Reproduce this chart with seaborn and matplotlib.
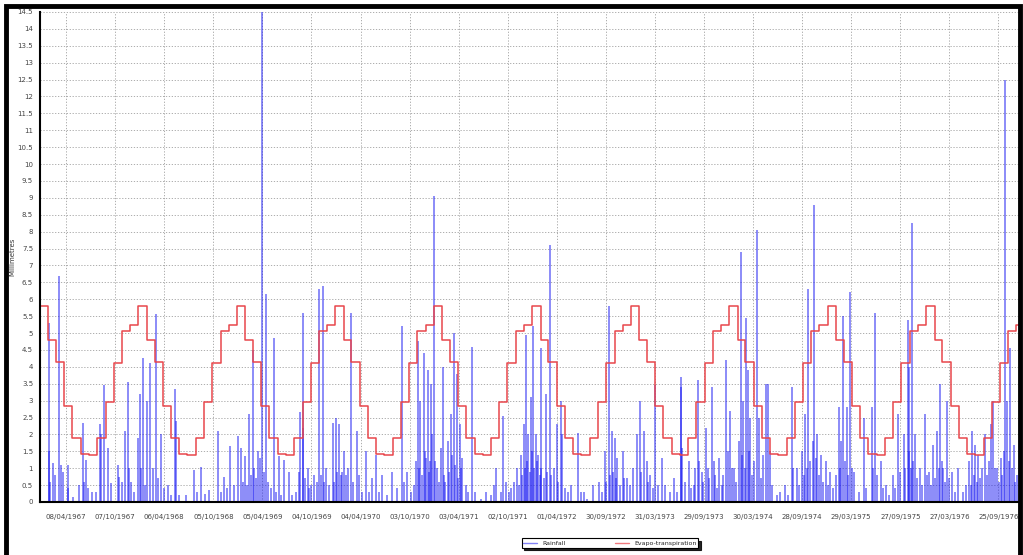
import numpy as np
import pandas as pd
import seaborn as sns
import matplotlib.pyplot as plt
from matplotlib.patches import Rectangle

# daily rainfall spikes: day offset from 1967-01-01 and mm
rain_day = [
    32, 33, 38, 49, 56, 70, 79, 86, 103, 104, 123, 145, 160, 164, 171, 179, 193, 208,
    223, 227, 238, 253, 264, 289, 293, 305, 316, 326, 330, 338, 349, 364, 371, 375,
    381, 390, 397, 408, 419, 430, 438, 449, 460, 474, 486, 501, 503, 516, 542, 570,
    582, 597, 612, 627, 660, 671, 681, 694, 705, 720, 734, 745, 753, 760, 768, 775,
    782, 790, 794, 801, 808, 816, 823, 831, 838, 845, 857, 868, 875, 886, 894, 905,
    923, 934, 949, 960, 964, 974, 977, 983, 993, 997, 1007, 1016, 1027, 1034, 1042,
    1048, 1053, 1060, 1072, 1085, 1090, 1097, 1103, 1109, 1116, 1122, 1127, 1134,
    1141, 1153, 1160, 1174, 1183, 1194, 1209, 1220, 1231, 1248, 1257, 1268, 1286,
    1307, 1326, 1342, 1349, 1363, 1375, 1386, 1394, 1401, 1405, 1409, 1416, 1423,
    1427, 1431, 1438, 1442, 1446, 1452, 1455, 1461, 1466, 1474, 1479, 1486, 1493,
    1497, 1501, 1512, 1518, 1524, 1529, 1535, 1540, 1545, 1549, 1557, 1561, 1567,
    1579, 1587, 1601, 1612, 1635, 1656, 1672, 1683, 1693, 1709, 1716, 1727, 1738,
    1746, 1757, 1771, 1775, 1783, 1788, 1795, 1799, 1804, 1807, 1811, 1816, 1820,
    1824, 1827, 1833, 1838, 1844, 1849, 1853, 1857, 1860, 1868, 1875, 1882, 1890,
    1897, 1905, 1916, 1923, 1931, 1937, 1946, 1957, 1968, 1997, 2005, 2016, 2030,
    2053, 2072, 2083, 2094, 2101, 2109, 2114, 2123, 2127, 2131, 2137, 2141, 2150,
    2161, 2168, 2179, 2190, 2200, 2215, 2224, 2229, 2239, 2250, 2257, 2264, 2272,
    2283, 2294, 2308, 2320, 2335, 2350, 2361, 2376, 2378, 2383, 2394, 2409, 2416,
    2424, 2431, 2441, 2446, 2456, 2461, 2471, 2476, 2483, 2494, 2500, 2505, 2512,
    2520, 2528, 2535, 2546, 2552, 2561, 2567, 2576, 2583, 2591, 2601, 2605, 2609,
    2615, 2620, 2626, 2631, 2635, 2642, 2650, 2661, 2668, 2676, 2683, 2694, 2702,
    2709, 2716, 2734, 2746, 2765, 2776, 2790, 2794, 2808, 2817, 2827, 2832, 2839,
    2844, 2850, 2857, 2867, 2872, 2878, 2882, 2889, 2897, 2905, 2917, 2924, 2931,
    2942, 2953, 2962, 2966, 2971, 2980, 2987, 2993, 2998, 3005, 3011, 3021, 3036,
    3055, 3065, 3086, 3091, 3098, 3106, 3119, 3128, 3139, 3150, 3164, 3172, 3184,
    3191, 3203, 3209, 3218, 3222, 3225, 3230, 3234, 3239, 3246, 3254, 3265, 3272,
    3283, 3289, 3296, 3306, 3314, 3320, 3327, 3333, 3339, 3344, 3351, 3357, 3364,
    3370, 3382, 3394, 3406, 3425, 3435, 3446, 3452, 3456, 3463, 3468, 3474, 3481,
    3487, 3495, 3506, 3513, 3521, 3528, 3536, 3543, 3549, 3556, 3563, 3569, 3574,
    3580, 3586, 3593, 3599, 3604, 3611, 3617, 3623,
]
rain_mm = [
    1.5, 5.3, 0.6, 1.15, 0.8, 6.7, 1.1, 0.9, 1.1, 0.4, 0.15, 0.5, 2.35, 0.6, 1.25, 0.4, 0.3, 0.3,
    2.3, 2.0, 3.45, 1.6, 0.55, 1.1, 0.75, 0.6, 2.1, 3.55, 1.0, 0.6, 0.3, 1.9, 3.2, 1.0,
    4.25, 0.5, 3.0, 4.1, 1.0, 5.55, 0.7, 2.0, 0.4, 0.5, 0.2, 3.35, 2.4, 0.2, 0.2, 0.95,
    0.3, 1.05, 0.25, 0.35, 2.1, 0.3, 0.75, 0.4, 1.65, 0.5, 1.95, 1.6, 0.6, 1.35, 0.5, 2.6,
    0.8, 4.5, 1.0, 0.7, 1.5, 1.3, 14.5, 0.9, 6.15, 0.6, 0.4, 4.85, 0.3, 1.35, 0.2, 1.25,
    0.9, 0.2, 0.3, 0.9, 2.65, 2.2, 5.6, 0.7, 1.0, 0.4, 0.5, 0.8, 0.6, 6.3, 0.8,
    6.4, 0.6, 1.0, 0.5, 2.35, 0.6, 2.5, 0.9, 2.3, 0.8, 0.9, 1.5, 0.8,
    1.0, 5.6, 0.6, 2.1, 0.8, 0.3, 1.5, 0.3, 0.7, 1.4, 0.3, 0.8, 0.2,
    0.9, 0.4, 5.2, 0.6, 0.9, 0.3, 0.5, 1.2, 4.75, 1.0, 3.0, 0.8, 4.4,
    1.5, 1.3, 3.9, 0.9, 1.2, 3.5, 2.0, 9.05, 1.2, 1.0, 0.6, 1.6, 4.0,
    0.8, 0.6, 1.8, 0.9, 2.6, 1.4, 5.0, 1.1, 3.8, 0.7, 2.3, 1.0, 1.3,
    0.5, 0.3, 4.6, 0.3, 0.1, 0.3, 0.2, 0.5, 1.0, 0.3, 2.55, 0.6, 0.3,
    0.4, 0.6, 1.0, 0.5, 1.4, 0.8, 2.3, 1.0, 4.95, 1.2, 2.0, 0.9, 3.1,
    1.5, 5.2, 1.0, 2.0, 1.2, 1.4, 0.8, 4.55, 1.0, 0.7, 3.2, 0.9, 7.6,
    0.8, 1.0, 2.3, 0.6, 3.0, 2.0, 0.4, 0.3, 0.5, 2.05, 0.3, 0.3, 0.1,
    0.5, 0.6, 0.3, 1.5, 0.6, 5.8, 0.8, 2.1, 0.9, 1.9, 0.7, 1.3, 0.5,
    1.5, 0.7, 0.7, 0.5, 1.0, 2.0, 3.0, 0.9, 2.1, 1.2, 0.6, 0.8, 0.4,
    3.45, 0.5, 1.3, 0.5, 0.3, 0.7, 0.3, 3.7, 3.4, 1.6, 0.6, 1.2, 0.4,
    0.5, 1.0, 3.6, 1.2, 0.9, 0.6, 2.2, 1.0, 0.7, 3.4, 1.2, 0.8, 0.4,
    1.3, 0.5, 0.8, 4.2, 1.5, 2.7, 1.0, 1.0, 0.6, 1.8, 7.4, 1.4, 3.0,
    1.0, 5.45, 3.9, 1.5, 2.5, 0.8, 1.2, 8.05, 2.5, 0.7, 1.4, 3.5, 3.5,
    1.5, 0.5, 0.2, 0.3, 0.5, 0.2, 3.4, 1.0, 1.0, 0.5, 1.5, 0.8, 2.6,
    1.0, 6.3, 1.2, 1.8, 8.8, 1.3, 2.0, 0.8, 1.4, 0.6, 1.2, 0.5, 0.9,
    0.4, 0.8, 2.8, 1.0, 1.8, 5.5, 1.2, 2.8, 0.8, 6.2, 1.0, 0.9, 0.3,
    2.5, 0.4, 2.8, 1.0, 5.6, 0.8, 1.2, 0.4, 0.5, 0.2, 0.8, 0.4, 2.6,
    0.9, 2.0, 1.0, 5.4, 1.5, 4.0, 1.0, 8.25, 1.2, 2.0, 0.7, 1.0, 0.5,
    2.6, 0.8, 0.9, 0.5, 1.7, 0.7, 2.1, 1.0, 3.5, 1.2, 1.0, 0.6, 3.0,
    0.7, 0.9, 0.3, 1.0, 0.3, 0.5, 1.2, 0.5, 2.1, 0.8, 1.7, 0.6, 1.4,
    0.7, 1.0, 2.0, 0.8, 1.2, 2.3, 3.0, 1.0, 1.0, 0.6, 1.3, 0.8, 1.5,
    12.5, 3.0, 1.2, 4.55, 1.0, 1.7, 0.6, 0.8,
]

# monthly evapo-transpiration (Jan..Dec), same every year
et_monthly = [5.8, 4.8, 4.15, 2.85, 1.9, 1.42, 1.38, 1.9, 2.95, 4.1, 5.05, 5.25]
et_years = list(range(1967, 1977))

tick_labels = [
    "08/04/1967", "07/10/1967", "06/04/1968", "05/10/1968", "05/04/1969",
    "04/10/1969", "04/04/1970", "03/10/1970", "03/04/1971", "02/10/1971",
    "01/04/1972", "30/09/1972", "31/03/1973", "29/09/1973", "30/03/1974",
    "28/09/1974", "29/03/1975", "27/09/1975", "27/03/1976", "25/09/1976",
]

start = pd.Timestamp("1967-01-01")
rain = pd.DataFrame({"date": start + pd.to_timedelta(rain_day, unit="D"), "mm": rain_mm})

et_dates = pd.date_range("1967-01-01", periods=len(et_years) * 12 + 1, freq="MS")
et_vals = list(et_monthly) * len(et_years) + [et_monthly[0]]
et = pd.DataFrame({"date": et_dates, "mm": et_vals})

sns.set_theme(style="white")
plt.rcParams["font.family"] = ["DejaVu Sans"]

fig = plt.figure(figsize=(10.23, 5.55), dpi=100)
ax = fig.add_axes([40 / 1023, 53 / 555, 980 / 1023, 490 / 555])

ax.vlines(rain["date"], 0, rain["mm"], colors=(0.1, 0.1, 0.95, 0.62), linewidth=1.15,
          label="Rainfall")
sns.lineplot(data=et, x="date", y="mm", ax=ax, drawstyle="steps-post",
             color="#e8464c", linewidth=1.1, label="Evapo-transpiration", legend=False)

ax.set_ylim(0, 14.5)
ax.set_xlim(start, pd.Timestamp("1976-12-14"))
yt = np.arange(0, 14.51, 0.5)
ax.set_yticks(yt)
ax.set_yticklabels([f"{v:g}" for v in yt])
tick_dates = pd.to_datetime(tick_labels, format="%d/%m/%Y")
ax.set_xticks(tick_dates)
ax.set_xticklabels(tick_labels)
ax.tick_params(axis="both", labelsize=5, colors="#444444", length=2, pad=3)
ax.tick_params(axis="x", pad=7)

ax.grid(True, color="#a0a0a0", linestyle=(0, (1.5, 2)), linewidth=0.6)
for s in ["top", "right"]:
    ax.spines[s].set_visible(False)
for s in ["left", "bottom"]:
    ax.spines[s].set_color("black")
    ax.spines[s].set_linewidth(1.5)
ax.set_xlabel("")
ax.set_ylabel("Millimetres", fontsize=5, color="#333333")
ax.yaxis.set_label_coords(-25 / 980, 0.5)

handles = [plt.Line2D([], [], color=(0.3, 0.3, 0.95, 0.7), lw=1),
           plt.Line2D([], [], color="#f07a7e", lw=1)]
leg = fig.legend(handles, ["Rainfall", "Evapo-transpiration"], loc="center",
                 bbox_to_anchor=(610 / 1023, 12 / 555), ncol=2, fontsize=4.5,
                 frameon=True, fancybox=False, shadow={"color": "black", "alpha": 0.85},
                 edgecolor="black", handlelength=2.2, columnspacing=8, borderpad=0.3,
                 handletextpad=0.8)
leg.get_frame().set_linewidth(0.8)

# thick outer border of the screenshot
fig.patches.append(Rectangle((6 / 1023, -0.05), 1014 / 1023, 1.04, transform=fig.transFigure,
                             fill=False, edgecolor="black", linewidth=3.5))

fig.savefig("out.png", dpi=100)
